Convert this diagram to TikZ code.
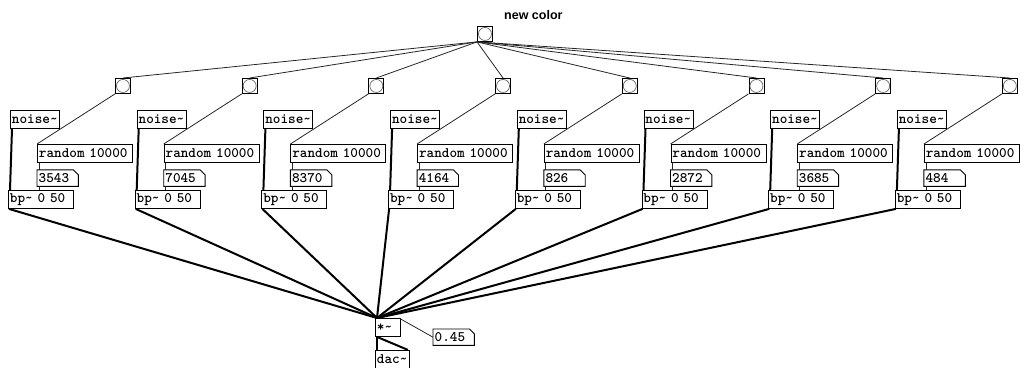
\documentclass[tikz,border=0pt]{standalone}
\usepackage{fontspec}
\usepackage{tikz}
\usetikzlibrary{positioning}
\newfontfamily\titlefont{Liberation Sans}
\newcommand{\pdfont}{\ttfamily\bfseries\fontsize{14.5}{15}\selectfont\addfontfeature{FakeBold=1.2}}
\newcommand{\tld}{\textasciitilde}

\begin{document}
\begin{tikzpicture}[x=1pt, y=-1pt]
        % Styles
        \tikzstyle{obj} = [draw, line width=0.9pt, anchor=north west, inner xsep=1.5pt, inner ysep=0pt, minimum height=18pt, align=left, font=\pdfont]
        \tikzstyle{numbox} = [anchor=north west, inner xsep=1.5pt, inner ysep=0pt, minimum height=16pt, text width=38pt, align=left, font=\pdfont]
        \tikzstyle{bng} = [draw, line width=0.9pt, anchor=north west, minimum size=15pt, inner sep=0pt]
        \tikzstyle{ctl} = [line width=0.8pt, black!85]
        \tikzstyle{sig} = [line width=2pt]

        \useasboundingbox (0,0) rectangle (1020,367);

        % Nodes
        \node[bng] (go) at (477,26) {};
        \draw[black!60, line width=0.7pt] (go.center) circle (6.5pt);
        \node[anchor=north west, inner sep=0pt, font=\titlefont\bfseries\fontsize{12.5}{13}\selectfont] (gotext) at (504,10) {new color};

        \foreach \v [count=\i from 0] in {3543,7045,8370,4164,826,2872,3685,484} {
            \pgfmathsetmacro{\xx}{8+126.7*\i}
            \node[bng] (bang\i) at (\xx+107,78) {};
            \draw[black!60, line width=0.7pt] (bang\i.center) circle (6.5pt);
            \node[obj, text width=46pt] (noise\i) at (\xx+2,110) {noise\tld};
            \node[obj, text width=92pt] (rand\i) at (\xx+29,144) {random 10000};
            \node[numbox, below=7pt of rand\i.south west, anchor=north west] (num\i) {\v};
            \draw[line width=0.9pt] (num\i.north west) -- ([xshift=-5pt]num\i.north east) -- ([yshift=-5pt]num\i.north east) -- (num\i.south east) -- (num\i.south west) -- cycle;
            \node[obj, text width=62pt] (bp\i) at (\xx,190) {bp\tld{} 0 50};
        }

        \node[obj, text width=22pt] (mult) at (375,318) {*\tld};
        \node[obj, text width=31pt, below=13pt of mult.south west, anchor=north west] (dac) {dac\tld};
        \node[numbox] (gain) at (433,329) {0.45};
        \draw[line width=0.9pt] (gain.north west) -- ([xshift=-5pt]gain.north east) -- ([yshift=-5pt]gain.north east) -- (gain.south east) -- (gain.south west) -- cycle;

        % Connections
        \foreach \i in {0,...,7} {
            \draw[ctl] (go.south west) -- (bang\i.north);
            \draw[ctl] (bang\i.south west) -- (rand\i.north west);
            \draw[ctl] ([xshift=2pt]rand\i.south west) -- ([xshift=2pt]num\i.north west);
            \draw[ctl] ([xshift=2pt]num\i.south west) -- ([xshift=31pt]bp\i.north west);
            \draw[sig] ([xshift=2pt]noise\i.south west) -- ([xshift=2pt]bp\i.north west);
            \draw[sig] ([xshift=1pt]bp\i.south west) -- ([xshift=2pt]mult.north west);
        }
        \draw[ctl] (gain.west) -- ([xshift=-2pt]mult.north east);
        \draw[sig] ([xshift=2pt]mult.south west) -- ([xshift=2pt]dac.north west);
        \draw[sig] ([xshift=2pt]mult.south west) -- ([xshift=-2pt]dac.north east);
    \end{tikzpicture}
\end{document}
